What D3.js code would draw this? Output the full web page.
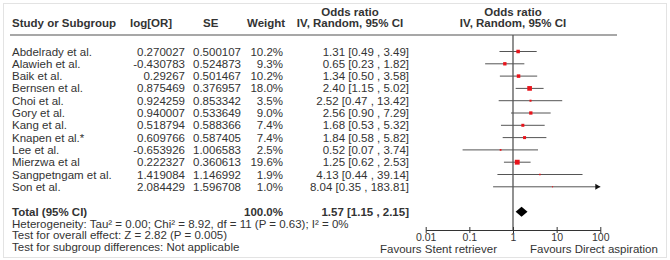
<!DOCTYPE html>
<html>
<head>
<meta charset="utf-8">
<script src="https://cdn.jsdelivr.net/npm/d3@7"></script>
<style>
  body { margin: 0; background: #fff; }
  svg text { font-family: "Liberation Sans", Arial, sans-serif; fill: #333; }
</style>
</head>
<body>
<svg id="forest" width="670" height="260"></svg>
<script>
// data
const studies = ["Abdelrady et al.", "Alawieh et al.", "Baik et al.", "Bernsen et al.", "Choi et al.",
  "Gory et al.", "Kang et al.", "Knapen et al.*", "Lee et al.", "Mierzwa et al", "Sangpetngam et al.", "Son et al."];
const logOR = ["0.270027", "-0.430783", "0.29267", "0.875469", "0.924259", "0.940007",
  "0.518794", "0.609766", "-0.653926", "0.222327", "1.419084", "2.084429"];
const seVals = ["0.500107", "0.524873", "0.501467", "0.376957", "0.853342", "0.533649",
  "0.588366", "0.587405", "1.006583", "0.360613", "1.146992", "1.596708"];
const weights = [10.2, 9.3, 10.2, 18.0, 3.5, 9.0, 7.4, 7.4, 2.5, 19.6, 1.9, 1.0];
const orVals = [1.31, 0.65, 1.34, 2.40, 2.52, 2.56, 1.68, 1.84, 0.52, 1.25, 4.13, 8.04];
const ciLow = [0.49, 0.23, 0.50, 1.15, 0.47, 0.90, 0.53, 0.58, 0.07, 0.62, 0.44, 0.35];
const ciHigh = [3.49, 1.82, 3.58, 5.02, 13.42, 7.29, 5.32, 5.82, 3.74, 2.53, 39.14, 183.81];
const total = { or: 1.57, lo: 1.15, hi: 2.15, weight: "100.0%" };
const footLines = [
  "Heterogeneity: Tau\u00b2 = 0.00; Chi\u00b2 = 8.92, df = 11 (P = 0.63); I\u00b2 = 0%",
  "Test for overall effect: Z = 2.82 (P = 0.005)",
  "Test for subgroup differences: Not applicable"
];
const axisTicks = [0.01, 0.1, 1, 10, 100];
const axisLabels = ["0.01", "0.1", "1", "10", "100"];

const svg = d3.select("#forest");
const fs = "11.5px";

// outer frame
svg.append("rect").attr("x", 3.5).attr("y", 3.5).attr("width", 663).attr("height", 254)
  .attr("fill", "none").attr("stroke", "#e3e3e3");

const x = d3.scaleLog().domain([0.01, 100]).range([425.7, 600.3]);
const rowY = d3.scaleLinear().domain([0, 1]).range([51.5, 63.8]);
const fmt = d3.format(".2f");
const ciText = (o, l, h) => `${fmt(o)} [${fmt(l)} , ${fmt(h)}]`;

// headers
const head = svg.append("g").style("font-weight", "bold").style("font-size", fs);
head.append("text").attr("x", 12).attr("y", 27).text("Study or Subgroup");
head.append("text").attr("x", 130).attr("y", 27).text("log[OR]");
head.append("text").attr("x", 203).attr("y", 27).text("SE");
head.append("text").attr("x", 247).attr("y", 27).text("Weight");
head.append("text").attr("x", 350).attr("y", 16).attr("text-anchor", "middle").text("Odds ratio");
head.append("text").attr("x", 350).attr("y", 27).attr("text-anchor", "middle").text("IV, Random, 95% CI");
head.append("text").attr("x", 513).attr("y", 16).attr("text-anchor", "middle").text("Odds ratio");
head.append("text").attr("x", 513).attr("y", 27).attr("text-anchor", "middle").text("IV, Random, 95% CI");

svg.append("line").attr("x1", 10).attr("x2", 617).attr("y1", 35).attr("y2", 35)
  .attr("stroke", "#8a8a8a").attr("stroke-width", 1.5);

// table rows
const rows = svg.append("g").style("font-size", fs).selectAll("g").data(studies).join("g")
  .attr("transform", (d, i) => `translate(0,${rowY(i) + 4})`);
rows.append("text").attr("x", 12).text(d => d);
rows.append("text").attr("x", 185).attr("text-anchor", "end").text((d, i) => logOR[i]);
rows.append("text").attr("x", 241).attr("text-anchor", "end").text((d, i) => seVals[i]);
rows.append("text").attr("x", 283).attr("text-anchor", "end").text((d, i) => weights[i].toFixed(1) + "%");
rows.append("text").attr("x", 409).attr("text-anchor", "end").text((d, i) => ciText(orVals[i], ciLow[i], ciHigh[i]));

// null line
svg.append("line").attr("x1", x(1)).attr("x2", x(1)).attr("y1", 35).attr("y2", 230)
  .attr("stroke", "#555").attr("stroke-width", 1.3);

// CI lines + squares
const plot = svg.append("g");
studies.forEach((s, i) => {
  const y = rowY(i);
  const hi = Math.min(ciHigh[i], 100);
  plot.append("line").attr("x1", x(ciLow[i])).attr("x2", x(hi)).attr("y1", y).attr("y2", y)
    .attr("stroke", "#555").attr("stroke-width", 1);
  if (ciHigh[i] > 100) {
    const xe = x(100);
    plot.append("path").attr("d", `M${xe - 5},${y - 3}L${xe},${y}L${xe - 5},${y + 3}Z`).attr("fill", "#111");
  }
  const side = Math.sqrt(weights[i]) * 1.1;
  plot.append("rect").attr("x", x(orVals[i]) - side / 2).attr("y", y - side / 2)
    .attr("width", side).attr("height", side).attr("fill", "#e8141b");
});

// total row
const yT = 211.7;
const tot = svg.append("g").style("font-weight", "bold").style("font-size", fs);
tot.append("text").attr("x", 12).attr("y", yT + 4).text("Total (95% CI)");
tot.append("text").attr("x", 283).attr("y", yT + 4).attr("text-anchor", "end").text(total.weight);
tot.append("text").attr("x", 409).attr("y", yT + 4).attr("text-anchor", "end").text(ciText(total.or, total.lo, total.hi));
svg.append("path")
  .attr("d", `M${x(total.lo)},${yT}L${x(total.or)},${yT - 5}L${x(total.hi)},${yT}L${x(total.or)},${yT + 5}Z`)
  .attr("fill", "#000");

svg.append("g").style("font-size", fs).selectAll("text").data(footLines).join("text")
  .attr("x", 12).attr("y", (d, i) => 227.5 + i * 11.8).text(d => d);

// axis
const gAxis = svg.append("g").attr("transform", "translate(0,230)")
  .call(d3.axisBottom(x).tickValues(axisTicks).tickFormat((d, i) => axisLabels[i])
    .tickSizeInner(3).tickSizeOuter(0).tickPadding(1));
gAxis.select(".domain").attr("stroke", "#333");
gAxis.selectAll(".tick line").attr("y1", -3).attr("stroke", "#333");
gAxis.selectAll(".tick text").style("font-family", "'Liberation Sans', Arial, sans-serif")
  .style("font-size", "10.5px").attr("fill", "#333");

svg.append("text").attr("x", 497).attr("y", 252.5).attr("text-anchor", "end").style("font-size", fs)
  .text("Favours Stent retriever");
svg.append("text").attr("x", 530).attr("y", 252.5).style("font-size", fs)
  .text("Favours Direct aspiration");
</script>
</body>
</html>
